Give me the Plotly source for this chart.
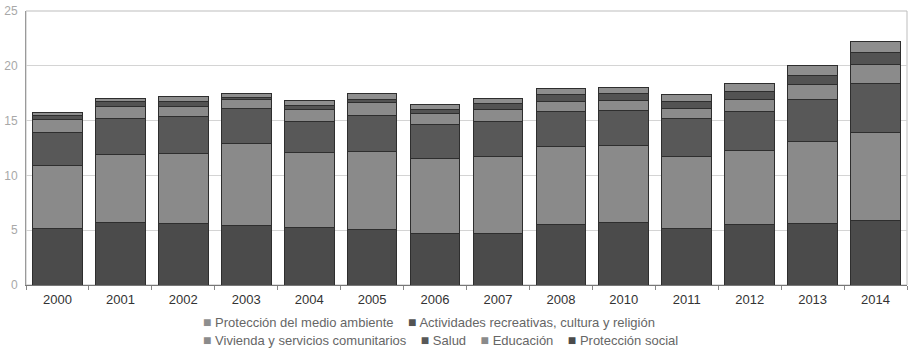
import plotly.graph_objects as go

years = ["2000", "2001", "2002", "2003", "2004", "2005", "2006",
         "2007", "2008", "2010", "2011", "2012", "2013", "2014"]

proteccion_social = [5.2, 5.7, 5.6, 5.4, 5.25, 5.1, 4.7, 4.7, 5.55, 5.7, 5.15, 5.55, 5.65, 5.85]
educacion = [5.7, 6.2, 6.4, 7.55, 6.8, 7.1, 6.8, 7.0, 7.05, 7.05, 6.6, 6.75, 7.45, 8.1]
salud = [3.0, 3.25, 3.35, 3.2, 2.85, 3.3, 3.15, 3.2, 3.25, 3.2, 3.4, 3.55, 3.8, 4.45]
vivienda = [1.2, 1.15, 0.95, 0.8, 1.1, 1.15, 1.0, 1.1, 0.9, 0.9, 1.0, 1.1, 1.35, 1.7]
actividades = [0.35, 0.4, 0.4, 0.2, 0.4, 0.3, 0.4, 0.6, 0.65, 0.6, 0.6, 0.7, 0.85, 1.1]
medio_ambiente = [0.3, 0.35, 0.5, 0.35, 0.45, 0.55, 0.45, 0.45, 0.55, 0.6, 0.65, 0.7, 0.95, 1.05]

series_names = ["Protección social", "Educación", "Salud",
                "Vivienda y servicios comunitarios",
                "Actividades recreativas, cultura y religión",
                "Protección del medio ambiente"]
series_values = [proteccion_social, educacion, salud, vivienda, actividades, medio_ambiente]
series_colors = ["#4b4b4b", "#8a8a8a", "#585858", "#8b8b8b", "#535353", "#8e8e8e"]

# legend layout (indices into the series lists), as in the source: two rows
legend_rows = [[5, 4], [3, 2, 1, 0]]

FONT = "Liberation Sans, Arial, Helvetica, sans-serif"

fig = go.Figure()
for name, vals, col in zip(series_names, series_values, series_colors):
    fig.add_trace(go.Bar(
        x=years, y=vals, name=name,
        marker=dict(color=col, line=dict(color="#2e2e2e", width=1)),
        showlegend=False,
    ))

# legend drawn as text rows with coloured square glyphs
annotations = []
row_y = [-0.134, -0.2]
for row, yy in zip(legend_rows, row_y):
    parts = []
    for i in row:
        parts.append(
            f'<span style="font-size:14px;color:{series_colors[i]}">■</span> {series_names[i]}'
        )
    annotations.append(dict(
        text="    ".join(parts), xref="paper", yref="paper",
        x=0.1985, y=yy, xanchor="left", yanchor="middle", showarrow=False,
        font=dict(family=FONT, size=13, color="#666666"),
    ))

fig.update_layout(
    barmode="stack",
    bargap=0.21,
    width=911, height=350,
    margin=dict(l=26, r=4, t=11, b=65),
    paper_bgcolor="white",
    plot_bgcolor="white",
    font=dict(family=FONT, size=13, color="#555555"),
    showlegend=False,
    annotations=annotations,
    xaxis=dict(
        type="category", automargin=False,
        showline=True, linecolor="#777777", linewidth=1,
        ticks="outside", tickson="boundaries", ticklen=4, tickcolor="#888888",
        tickfont=dict(family=FONT, size=13, color="#333333"),
        ticklabelstandoff=2,
        showgrid=False,
    ),
    yaxis=dict(
        range=[0, 25], dtick=5, automargin=False,
        showline=True, linecolor="#9a9a9a", linewidth=1,
        showgrid=True, gridcolor="#d4d4d4", gridwidth=1,
        zeroline=False,
        tickfont=dict(family=FONT, size=12, color="#a8a8a8"),
        ticklabelstandoff=5,
    ),
    shapes=[dict(type="rect", xref="paper", yref="paper", x0=0, x1=1, y0=0, y1=1,
                 line=dict(color="#bdbdbd", width=1), layer="below")],
)

fig.write_html(
    "out.html",
    config={"displayModeBar": False},
    post_script="document.body.style.margin='0px';document.body.style.overflow='hidden';",
)
